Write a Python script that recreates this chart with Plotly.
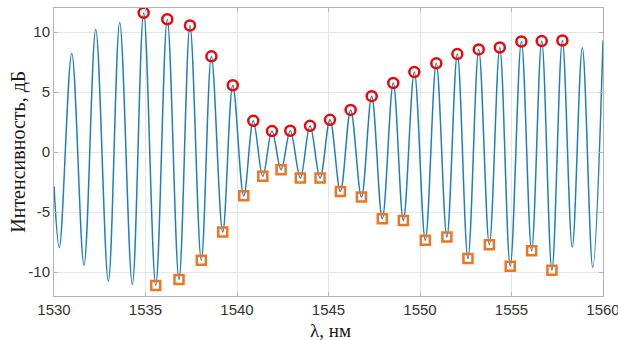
import plotly.graph_objects as go

# Spectrum extrema (wavelength, nm / intensity, dB)
peak_lambda = [1530.97, 1532.28, 1533.59, 1534.90, 1536.19, 1537.43, 1538.60, 1539.77,
               1540.89, 1541.91, 1542.91, 1543.99, 1545.08, 1546.21, 1547.36, 1548.54,
               1549.69, 1550.89, 1552.04, 1553.21, 1554.36, 1555.54, 1556.65, 1557.78,
               1558.87]
peak_db = [8.2, 10.2, 10.8, 11.6, 11.06, 10.54, 7.97, 5.56,
           2.6, 1.74, 1.77, 2.18, 2.68, 3.51, 4.65, 5.75,
           6.66, 7.39, 8.16, 8.55, 8.71, 9.21, 9.24, 9.29,
           8.69]
dip_lambda = [1530.29, 1531.64, 1532.97, 1534.28, 1535.56, 1536.83, 1538.05, 1539.22,
              1540.37, 1541.41, 1542.41, 1543.46, 1544.54, 1545.65, 1546.80, 1547.94,
              1549.09, 1550.29, 1551.47, 1552.62, 1553.79, 1554.93, 1556.10, 1557.21,
              1558.32, 1559.44]
dip_db = [-7.97, -9.43, -10.76, -11.04, -11.12, -10.62, -9.02, -6.67,
          -3.65, -2.02, -1.47, -2.16, -2.16, -3.29, -3.76, -5.56,
          -5.70, -7.36, -7.08, -8.88, -7.72, -9.52, -8.22, -9.85,
          -7.91, -9.63]
start_lambda, start_db = 1530.0, -2.85
end_lambda, end_db = 1560.0, 9.3

# indices of extrema that are marked
marked_peaks = list(range(3, 24))
marked_dips = list(range(4, 24))

x_ticks = [1530, 1535, 1540, 1545, 1550, 1555, 1560]
y_ticks = [-10, -5, 0, 5, 10]

# Build the trace through the extrema, sorted by wavelength
pts = [(start_lambda, start_db)] + list(zip(peak_lambda, peak_db)) + \
      list(zip(dip_lambda, dip_db)) + [(end_lambda, end_db)]
pts.sort(key=lambda p: p[0])
line_x = [p[0] for p in pts]
line_y = [p[1] for p in pts]

fig = go.Figure()
fig.add_trace(go.Scatter(
    x=line_x, y=line_y, mode="lines",
    line=dict(color="#1F7EC1", width=1.5, shape="spline", smoothing=1.0),
    hoverinfo="skip", showlegend=False))
fig.add_trace(go.Scatter(
    x=[peak_lambda[i] for i in marked_peaks], y=[peak_db[i] for i in marked_peaks],
    mode="markers",
    marker=dict(symbol="circle-open", size=10, color="#E60A0A",
                line=dict(width=2.5, color="#E60A0A")),
    showlegend=False))
fig.add_trace(go.Scatter(
    x=[dip_lambda[i] for i in marked_dips], y=[dip_db[i] for i in marked_dips],
    mode="markers",
    marker=dict(symbol="square-open", size=9, color="#EE7623",
                line=dict(width=2.5, color="#EE7623")),
    showlegend=False))

axis_common = dict(
    showgrid=True, gridcolor="#E6E6E6", gridwidth=1, automargin=False,
    zeroline=False, showline=True, linecolor="#B4B4B4", linewidth=1,
    mirror="ticks", ticks="inside", ticklen=4, tickcolor="#B4B4B4",
    ticklabeloverflow="allow",
    tickfont=dict(family="Liberation Sans, Arial, sans-serif", size=15, color="#333333"),
)
fig.update_xaxes(range=[1530, 1560], tickvals=x_ticks,
                 ticktext=[str(v) for v in x_ticks], **axis_common)
fig.update_yaxes(range=[-12, 12], tickvals=y_ticks,
                 ticktext=[str(v) for v in y_ticks], **axis_common)

fig.add_annotation(text="Интенсивность, дБ", xref="paper", yref="paper",
                   x=-0.066, y=0.5, textangle=-90, showarrow=False,
                   xanchor="center", yanchor="middle",
                   font=dict(family="Liberation Serif, Times New Roman, serif",
                             size=20, color="#1A1A1A"))
fig.add_annotation(text="λ, нм", xref="paper", yref="paper",
                   x=0.503, y=-0.12, showarrow=False,
                   xanchor="center", yanchor="middle",
                   font=dict(family="Liberation Serif, Times New Roman, serif",
                             size=19, color="#1A1A1A"))

fig.update_layout(
    width=618, height=340,
    margin=dict(l=54, r=15, t=8, b=44, autoexpand=False),
    paper_bgcolor="white", plot_bgcolor="white",
)
fig.write_html("out.html", config={"displayModeBar": False},
               post_script="document.body.style.margin='0';document.body.style.overflow='hidden';")
